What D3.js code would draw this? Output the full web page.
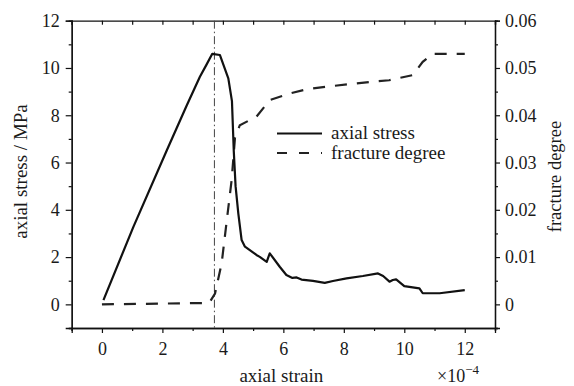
<!DOCTYPE html>
<html><head><meta charset="utf-8">
<script src="https://cdn.jsdelivr.net/npm/d3@7"></script>
<style>
body{margin:0;background:#fff;}
svg text{font-family:"Liberation Serif","Times New Roman",serif;fill:#1a1a1a;}
</style></head>
<body><svg id="c" width="574" height="386"></svg>
<script>
// ---- data ----
const stressStrain = [0.05,1.04,2.15,2.80,3.24,3.45,3.65,3.90,4.18,4.30,4.36,4.42,4.51,4.62,4.73,5.11,5.22,5.45,5.55,5.88,6.10,6.30,6.44,6.60,6.98,7.37,7.64,8.09,8.63,9.13,9.30,9.51,9.62,9.73,10.0,10.5,10.61,11.17,12.0];
const stressValues = [0.18,3.28,6.53,8.40,9.63,10.12,10.60,10.55,9.56,8.6,6.5,5.0,3.85,2.72,2.44,2.09,2.01,1.80,2.16,1.59,1.24,1.12,1.14,1.05,0.99,0.91,0.99,1.10,1.20,1.31,1.20,0.96,1.03,1.06,0.77,0.68,0.47,0.47,0.60];
const fracStrain = [0,3.55,3.74,3.96,4.13,4.29,4.40,4.56,5.11,5.55,6.21,6.77,7.64,8.96,9.50,10.28,10.61,10.94,12.0];
const fracValues = [0,0.0003,0.0023,0.0087,0.0178,0.0263,0.0352,0.0379,0.0397,0.0432,0.0446,0.0455,0.0462,0.0471,0.0474,0.0485,0.0513,0.0530,0.0530];
const peakStrain = 3.72;
const xMajor = [0,2,4,6,8,10,12];
const yLeftMajor = [0,2,4,6,8,10,12];
const yRightMajor = [0,0.01,0.02,0.03,0.04,0.05,0.06];
const seriesNames = ["axial stress","fracture degree"];

// ---- layout ----
const L=71.7, R=495, T=20.7, B=328;
const svg = d3.select("#c");
const x = d3.scaleLinear().domain([-1,13]).range([L,R]);
const yL = d3.scaleLinear().domain([-1,12]).range([B,T]);
const yR = d3.scaleLinear().domain([-0.005,0.06]).range([B,T]);

function styleAxis(g){
  g.select(".domain").attr("stroke","#111").attr("stroke-width",1.3);
  g.selectAll(".tick line").attr("stroke","#111").attr("stroke-width",1.2);
  g.selectAll(".tick text").attr("font-size",18).attr("font-family","Liberation Serif").attr("fill","#1a1a1a");
}
const xMinor = d3.range(-1,14).filter(v=>!xMajor.includes(v));
const yLMinor = d3.range(-1,13).filter(v=>!yLeftMajor.includes(v));
const yRMinor = d3.range(-1,13).map(v=>v*0.005).filter(v=>!yRightMajor.some(m=>Math.abs(m-v)<1e-9));

// bottom
svg.append("g").attr("transform",`translate(0,${B})`).call(d3.axisBottom(x).tickValues(xMinor).tickSize(3).tickFormat("")).call(styleAxis);
svg.append("g").attr("transform",`translate(0,${B})`).call(d3.axisBottom(x).tickValues(xMajor).tickSize(5).tickPadding(9).tickFormat(d3.format("d"))).call(styleAxis);
// top (inward ticks)
svg.append("g").attr("transform",`translate(0,${T})`).call(d3.axisBottom(x).tickValues(d3.range(-1,14)).tickSize(4).tickFormat("")).call(styleAxis);
// left
svg.append("g").attr("transform",`translate(${L},0)`).call(d3.axisLeft(yL).tickValues(yLMinor).tickSize(3).tickFormat("")).call(styleAxis);
svg.append("g").attr("transform",`translate(${L},0)`).call(d3.axisLeft(yL).tickValues(yLeftMajor).tickSize(6).tickPadding(6).tickFormat(d3.format("d"))).call(styleAxis);
// right
svg.append("g").attr("transform",`translate(${R},0)`).call(d3.axisRight(yR).tickValues(yRMinor).tickSize(3).tickFormat("")).call(styleAxis);
svg.append("g").attr("transform",`translate(${R},0)`).call(d3.axisRight(yR).tickValues(yRightMajor).tickSize(5).tickPadding(5).tickFormat(d=>d===0?"0":d3.format(".2f")(d))).call(styleAxis);

// peak vertical line
svg.append("line").attr("x1",x(peakStrain)).attr("x2",x(peakStrain)).attr("y1",T).attr("y2",B)
  .attr("stroke","#444").attr("stroke-width",1).attr("stroke-dasharray","8,3,1.5,3");

// curves
const stressData = stressStrain.map((s,i)=>[s,stressValues[i]]);
const fracData = fracStrain.map((s,i)=>[s,fracValues[i]]);
svg.append("path").datum(fracData).attr("fill","none").attr("stroke","#222").attr("stroke-width",2.2)
  .attr("stroke-dasharray","12,10")
  .attr("d",d3.line().x(d=>x(d[0])).y(d=>yR(d[1])));
svg.append("path").datum(stressData).attr("fill","none").attr("stroke","#111").attr("stroke-width",2.2)
  .attr("stroke-linejoin","round")
  .attr("d",d3.line().x(d=>x(d[0])).y(d=>yL(d[1])));

// legend
const lg = svg.append("g");
lg.append("line").attr("x1",277).attr("x2",322).attr("y1",133.5).attr("y2",133.5).attr("stroke","#111").attr("stroke-width",2.2);
lg.append("line").attr("x1",277).attr("x2",322).attr("y1",153).attr("y2",153).attr("stroke","#222").attr("stroke-width",2.2).attr("stroke-dasharray","10,12");
lg.append("text").attr("x",331).attr("y",139).attr("font-size",19).text(seriesNames[0]);
lg.append("text").attr("x",331).attr("y",158.5).attr("font-size",19).text(seriesNames[1]);

// axis titles
svg.append("text").attr("x",(L+R)/2-2).attr("y",382).attr("text-anchor","middle").attr("font-size",19).text("axial strain");
svg.append("text").attr("transform","translate(27,171.5) rotate(-90)").attr("text-anchor","middle").attr("font-size",19).text("axial stress / MPa");
svg.append("text").attr("transform","translate(561,176.5) rotate(-90)").attr("text-anchor","middle").attr("font-size",18.5).text("fracture degree");
const ex = svg.append("text").attr("x",437).attr("y",382).attr("font-size",18);
ex.append("tspan").text("×10");
ex.append("tspan").attr("dy",-8).attr("font-size",13).text("−4");
</script></body></html>
